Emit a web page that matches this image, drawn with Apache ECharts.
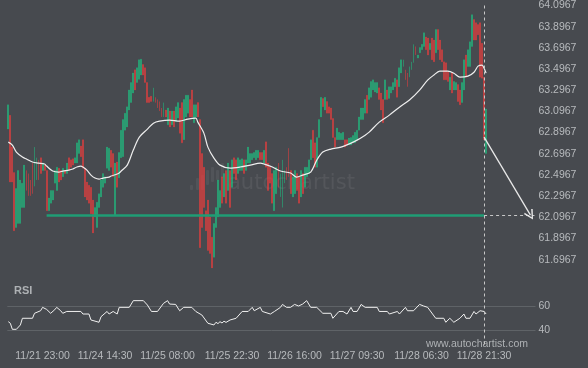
<!DOCTYPE html>
<html><head><meta charset="utf-8">
<script src="https://cdn.jsdelivr.net/npm/echarts@6/dist/echarts.min.js"></script>
<style>html,body{margin:0;padding:0;background:#474a4f;overflow:hidden}#c{width:588px;height:368px}</style>
</head><body><div id="c"></div>
<script>
// [open, close] per 30-min candle
const candleOC = [
[62.93,63.16],[63.06,62.43],[62.76,62.43],[62.52,61.97],[62.00,62.37],[62.04,62.54],[62.04,62.45],[62.19,62.42],[62.19,62.59],[62.54,62.35],
[62.51,62.30],[62.45,62.30],[62.61,62.32],[62.39,62.76],[62.45,62.66],[62.64,62.45],[62.66,62.51],[62.54,62.61],[62.59,62.54],[62.54,62.16],
[62.16,62.28],[62.23,62.35],[62.26,62.35],[62.42,62.54],[62.35,62.57],[62.56,62.43],[62.54,62.45],[62.48,62.56],[62.54,62.51],[62.51,62.61],
[62.66,62.54],[62.64,62.57],[62.65,62.59],[62.61,62.66],[62.61,62.80],[62.70,62.83],[62.77,62.67],[62.83,62.56],[62.56,62.29],[62.43,62.26],
[62.40,62.23],[62.38,62.13],[62.26,61.95],[62.10,62.19],[62.00,62.24],[62.19,62.32],[62.29,62.45],[62.38,62.51],[62.42,62.48],[62.56,62.76],
[62.54,62.75],[62.73,62.57],[62.70,62.48],[62.12,62.61],[62.62,62.38],[62.47,62.71],[62.66,62.92],[62.67,63.02],[62.92,63.08],[62.95,63.14],
[63.11,63.30],[63.18,63.37],[63.27,63.46],[63.49,63.30],[63.37,63.51],[63.40,63.585],[63.44,63.59],[63.54,63.44],[63.51,63.37],[63.37,63.18],
[63.23,63.18],[63.24,63.19],[63.19,63.32],[63.23,63.18],[63.21,63.13],[63.19,63.10],[63.13,63.045],[63.045,63.18],[63.11,63.045],[62.97,63.13],
[63.10,62.95],[62.97,63.10],[63.10,62.95],[63.00,63.14],[63.035,63.18],[63.13,62.89],[63.18,62.80],[62.83,63.21],[63.045,63.25],[63.08,63.25],
[63.21,63.045],[63.30,63.045],[62.99,63.16],[63.045,63.16],[63.18,63.045],[63.02,61.81],[62.70,62.00],[62.57,62.19],[62.16,61.97],[62.26,61.785],
[62.10,61.756],[61.91,61.62],[61.72,62.04],[62.00,62.19],[62.10,62.45],[62.19,62.35],[62.48,62.23],[62.29,62.51],[62.54,62.23],[62.35,62.61],
[62.54,62.19],[62.38,62.64],[62.66,62.51],[62.64,62.45],[62.51,62.66],[62.54,62.64],[62.54,62.65],[62.64,62.51],[62.54,62.64],[62.61,62.76],
[62.61,62.70],[62.64,62.70],[62.66,62.71],[62.64,62.73],[62.66,62.73],[62.71,62.64],[62.71,62.64],[62.61,62.73],[62.81,62.57],[62.61,62.35],
[62.57,62.42],[62.51,62.23],[62.16,62.54],[62.32,62.57],[62.61,62.38],[62.29,62.51],[62.19,62.64],[62.42,62.54],[62.57,62.45],[62.75,62.48],
[62.54,62.32],[62.29,62.48],[62.32,62.54],[62.51,62.35],[62.48,62.23],[62.29,62.54],[62.51,62.32],[62.38,62.57],[62.48,62.57],[62.51,62.64],
[62.64,62.83],[62.92,62.66],[62.80,62.57],[62.57,62.85],[62.85,63.02],[63.045,63.23],[63.22,63.14],[63.11,63.23],[63.19,63.08],[63.14,63.08],
[63.13,63.02],[63.03,62.85],[62.85,62.76],[62.83,62.94],[62.83,62.90],[62.83,62.89],[62.83,62.90],[62.83,62.76],[62.83,62.78],[62.78,62.845],
[62.78,62.85],[62.80,62.87],[62.80,62.90],[62.83,62.92],[62.92,63.045],[63.02,63.13],[63.02,63.13],[63.08,63.21],[63.25,63.08],[63.21,63.32],
[63.23,63.38],[63.30,63.395],[63.28,63.37],[63.27,63.37],[63.32,63.21],[63.27,63.11],[63.21,62.99],[63.21,63.395],[63.30,63.21],[63.22,63.33],
[63.27,63.33],[63.30,63.37],[63.33,63.41],[63.395,63.23],[63.33,63.51],[63.46,63.585],[63.52,63.585],[63.49,63.395],[63.46,63.33],[63.42,63.52],
[63.49,63.565],[63.557,63.73],[63.71,63.63],[63.60,63.63],[63.65,63.70],[63.68,63.73],[63.71,63.84],[63.80,63.68],[63.79,63.63],[63.68,63.74],
[63.79,63.585],[63.77,63.565],[63.65,63.87],[63.87,63.68],[63.77,63.585],[63.68,63.565],[63.565,63.395],[63.557,63.395],[63.47,63.38],[63.30,63.42],
[63.46,63.27],[63.30,63.38],[63.30,63.37],[63.35,63.19],[63.30,63.16],[63.18,63.37],[63.30,63.585],[63.63,63.42],[63.52,63.68],[63.52,63.755],
[63.71,64.01],[63.964,63.77],[63.935,63.77],[63.917,63.82],[63.935,63.42],[63.74,63.41],[63.42,62.83],[62.70,63.12]
];
// moving average [candle index, value]
const maPoints = [[0,62.807],[2,62.779],[4,62.713],[7,62.666],[9,62.647],[12,62.619],[15,62.609],[18,62.600],[19,62.581],[22,62.534],[25,62.524],[27,62.534],[30,62.543],[32,62.553],[34,62.572],[36,62.581],[37,62.572],[39,62.543],[41,62.496],[43,62.468],[45,62.458],[47,62.468],[50,62.477],[51,62.487],[54,62.506],[55,62.515],[56,62.534],[59,62.590],[62,62.732],[65,62.854],[69,62.930],[72,62.986],[75,63.005],[80,63.015],[85,63.005],[89,63.024],[93,63.033],[94,62.996],[97,62.892],[99,62.760],[102,62.656],[105,62.590],[110,62.562],[115,62.572],[120,62.590],[125,62.609],[127,62.600],[131,62.572],[135,62.534],[140,62.515],[143,62.477],[146,62.496],[150,62.524],[153,62.637],[156,62.713],[160,62.741],[165,62.760],[170,62.798],[173,62.826],[177,62.873],[179,62.901],[184,62.996],[189,63.062],[194,63.137],[199,63.204],[204,63.298],[208,63.392],[211,63.439],[214,63.477],[218,63.477],[221,63.458],[224,63.420],[228,63.430],[231,63.467],[233,63.524],[235,63.534],[236,63.505],[237,63.458]];
// RSI [candle index, value]
const rsiPoints = [[0,47.1],[1,45.8],[2,40.8],[4,40.8],[6,44.4],[7,49.9],[12,49.9],[13,54],[16,56.1],[17,58.9],[19,57.2],[21,54],[23,56.9],[24,58.9],[26,56.1],[27,54],[29,55.5],[36,55.5],[37,53.4],[40,53.4],[41,48.5],[45,46.6],[46,51.2],[49,55.5],[50,53.4],[52,55.5],[54,53.4],[55,58.9],[60,58.9],[62,64.4],[67,64.4],[69,60.8],[71,55.5],[74,55.5],[77,62.2],[79,64.4],[80,61.6],[83,61.3],[85,56.1],[87,58.9],[91,58.9],[93,55.5],[96,52.6],[99,45.8],[102,44.4],[103,46.6],[104,45.5],[105,47.1],[106,46],[107,47.5],[108,46.5],[110,48.5],[113,49.9],[116,55.5],[119,55.5],[121,58.9],[122,56.1],[125,58.9],[126,55.5],[130,53.4],[132,55.5],[135,58.9],[136,61.3],[138,58.9],[140,58.9],[142,61.3],[144,60],[146,61.6],[148,64.4],[150,58.9],[153,58.9],[156,54],[160,54],[161,49.9],[164,55.5],[166,55.5],[168,53.4],[170,58.9],[171,55.5],[173,55.5],[175,61.3],[177,58.9],[183,58.9],[184,55.5],[188,55.5],[189,53.4],[193,55.5],[194,53.4],[197,58.9],[198,56.1],[201,56.1],[204,61.3],[206,60],[208,58.9],[212,49.9],[216,49.9],[217,46.6],[219,49.9],[221,46.6],[224,49.9],[226,53.4],[227,49.9],[229,49.9],[231,55.5],[232,53.4],[234,56.1],[236,55.5],[237,53.4]];
const tickIndex = [17,48,79,111,142,173,205,236];
const tickLabels = ['11/21 23:00','11/24 14:30','11/25 08:00','11/25 22:30','11/26 16:00','11/27 09:30','11/28 06:30','11/28 21:30'];
const priceMin = 60.8967, priceMax = 64.0967, priceStep = 0.2, priceShown = 61.6;
const rsiMin = 40, rsiMax = 60;
const levelPrice = 62.1156, levelStart = 19, nowIndex = 236;
const forecastStart = [236, 62.854], forecastEnd = [259, 62.118];
const padCount = 24;

const total = candleOC.length + padCount;
const categories = Array.from({length: total}, (_, i) => String(i));
const candleData = candleOC.map(([o, c]) => [o, c, Math.min(o, c), Math.max(o, c)]);
const lastIdx = total - 1;

const txt = '#b7babd';
const font = 'Liberation Sans, Arial, sans-serif';
const chart = echarts.init(document.getElementById('c'), null, {renderer: 'canvas'});
chart.setOption({
  animation: false,
  backgroundColor: '#474a4f',
  grid: [
    {left: 7.3, right: 52.5, top: 5.3, bottom: 23.5},
    {left: 7.3, right: 52.5, top: 306, bottom: 37.7}
  ],
  xAxis: [
    {type: 'category', data: categories, gridIndex: 0, boundaryGap: true,
     axisLine: {show: false}, axisTick: {show: false}, axisLabel: {show: false}, splitLine: {show: false}},
    {type: 'category', data: categories, gridIndex: 1, boundaryGap: true,
     axisLine: {show: false}, axisTick: {show: false}, splitLine: {show: false},
     axisLabel: {interval: 0, margin: 20, color: txt, fontSize: 10.5, fontFamily: font,
       formatter: (v, idx) => { const k = tickIndex.indexOf(idx); return k >= 0 ? tickLabels[k] : ''; }}}
  ],
  yAxis: [
    {type: 'value', gridIndex: 0, position: 'right', min: priceMin, max: priceMax, interval: priceStep,
     axisLine: {show: false}, axisTick: {show: false}, splitLine: {show: false},
     axisLabel: {margin: 3, color: txt, fontSize: 10.5, fontFamily: font, align: 'left',
       formatter: v => { const r = Math.round((v - 0.0967) / priceStep) * priceStep + 0.0967; return r < priceShown ? '' : r.toFixed(4); }}},
    {type: 'value', gridIndex: 1, position: 'right', min: rsiMin, max: rsiMax, interval: 20,
     axisLine: {show: false}, axisTick: {show: false},
     splitLine: {show: true, lineStyle: {color: '#5f6367', width: 1}},
     axisLabel: {margin: 3, color: txt, fontSize: 10.5, fontFamily: font, align: 'left'}}
  ],
  graphic: [
    {type: 'rect', z: -10, shape: {x: 190, y: 185, width: 3, height: 5, r: 1}, style: {fill: 'rgba(255,255,255,0.06)'}},
    {type: 'rect', z: -10, shape: {x: 196, y: 178, width: 3, height: 12, r: 1}, style: {fill: 'rgba(255,255,255,0.06)'}},
    {type: 'rect', z: -10, shape: {x: 201, y: 175, width: 3, height: 15, r: 1}, style: {fill: 'rgba(255,255,255,0.06)'}},
    {type: 'rect', z: -10, shape: {x: 206, y: 170, width: 3, height: 15, r: 1}, style: {fill: 'rgba(255,255,255,0.06)'}},
    {type: 'rect', z: -10, shape: {x: 211, y: 167, width: 3, height: 15, r: 1}, style: {fill: 'rgba(255,255,255,0.06)'}},
    {type: 'rect', z: -10, shape: {x: 216, y: 170, width: 3, height: 10, r: 1}, style: {fill: 'rgba(255,255,255,0.06)'}},
    {type: 'rect', z: -10, shape: {x: 221, y: 163, width: 3, height: 15, r: 1}, style: {fill: 'rgba(255,255,255,0.06)'}},
    {type: 'text', z: -10, x: 228, y: 173, style: {text: 'autochartist', fontSize: 21, fontFamily: 'DejaVu Sans, sans-serif', fill: 'rgba(255,255,255,0.07)'}},
    {type: 'text', x: 14, y: 285, style: {text: 'RSI', fontSize: 11, fontWeight: 'bold', fontFamily: font, fill: '#aeb1b4'}},
    {type: 'text', x: 528, y: 339, style: {text: 'www.autochartist.com', fontSize: 10.5, fontFamily: font, fill: '#aeb1b4', align: 'right'}}
  ],
  series: [
    {type: 'candlestick', xAxisIndex: 0, yAxisIndex: 0, data: candleData, barWidth: 1.4,
     itemStyle: {color: '#1dc684', color0: '#f63d3d', borderColor: '#1dc684', borderColor0: '#f63d3d', borderWidth: 0.3},
     markLine: {silent: true, symbol: ['none', 'none'], label: {show: false}, animation: false,
       data: [
         [{coord: [levelStart, levelPrice], lineStyle: {color: '#1f9d74', width: 2.5, type: 'solid'}}, {coord: [nowIndex, levelPrice]}],
         [{coord: [nowIndex, levelPrice], lineStyle: {color: '#c8c8c8', width: 1, type: [3, 3]}}, {coord: [lastIdx, levelPrice]}],
         {xAxis: nowIndex, lineStyle: {color: '#c8c8c8', width: 1, type: [3, 3]}},
         [{coord: forecastStart, symbol: 'none', lineStyle: {color: '#e8e8e8', width: 1.3, type: 'solid'}},
          {coord: forecastEnd, symbol: 'path://M5,0 L10,9 L8.8,10 L5,2.6 L1.2,10 L0,9 Z', symbolSize: [10, 10]}]
       ]}},
    {type: 'line', xAxisIndex: 0, yAxisIndex: 0, data: maPoints, smooth: 0.3, showSymbol: false, symbol: 'none',
     lineStyle: {color: '#eeeeee', width: 1.2}, z: 3},
    {type: 'line', xAxisIndex: 1, yAxisIndex: 1, data: rsiPoints, showSymbol: false, symbol: 'none', clip: false,
     lineStyle: {color: '#f0f0f0', width: 1}}
  ]
});
</script></body></html>
